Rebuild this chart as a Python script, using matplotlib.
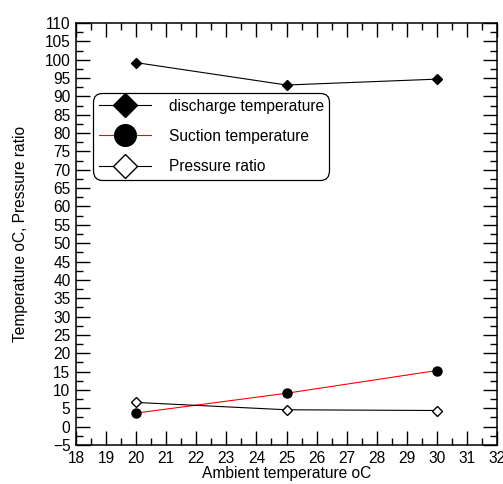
import matplotlib
matplotlib.use("Agg")
import matplotlib.pyplot as plt
from matplotlib.ticker import MultipleLocator

plt.rcParams['font.family'] = ['Liberation Sans', 'DejaVu Sans']

ambient = [20, 25, 30]
discharge = [99.2, 93.1, 94.7]
suction = [3.7, 9.1, 15.3]
pressure_ratio = [6.6, 4.6, 4.4]

FS = 11.2
W, H = 503, 484
fig = plt.figure(figsize=(W/100, H/100), dpi=100)
L, R, T, B = 76, 497, 23, 445
ax = fig.add_axes([L/W, 1-B/H, (R-L)/W, (B-T)/H])

ax.plot(ambient, discharge, color='black', lw=0.8, marker='D', ms=5, mfc='black', mec='black', label='discharge temperature')
ax.plot(ambient, suction, color='red', lw=0.8, marker='o', ms=6.5, mfc='black', mec='black', label='Suction temperature')
ax.plot(ambient, pressure_ratio, color='black', lw=0.8, marker='D', ms=5, mfc='white', mec='black', label='Pressure ratio')

ax.set_xlim(18, 32)
ax.set_ylim(-5, 110)
ax.xaxis.set_major_locator(MultipleLocator(1))
ax.xaxis.set_minor_locator(MultipleLocator(0.5))
ax.yaxis.set_major_locator(MultipleLocator(5))
ax.yaxis.set_minor_locator(MultipleLocator(2.5))
ax.tick_params(which='both', direction='in', top=True, right=True, labelsize=FS, width=1.0)
ax.tick_params(which='major', length=10)
ax.tick_params(which='minor', length=5)
ax.tick_params(axis='x', which='major', pad=4)
ax.tick_params(axis='y', which='major', pad=4)
for s in ax.spines.values():
    s.set_linewidth(1.1)

ax.set_xlabel('Ambient temperature oC', fontsize=FS, labelpad=0)
ax.set_ylabel('Temperature oC, Pressure ratio', fontsize=FS, labelpad=12)

leg = ax.legend(loc='upper left', bbox_to_anchor=((93-L)/(R-L), (B-93)/(B-T)), borderaxespad=0,
                fontsize=FS, markerscale=2.4, handlelength=3.4, labelspacing=0.98, borderpad=0.36,
                handletextpad=1.1, frameon=True, fancybox=True, edgecolor='black', framealpha=1)
leg.get_frame().set_linewidth(0.9)
leg.get_frame().set_boxstyle('round', pad=0, rounding_size=0.6)

fig.savefig('out.png', dpi=100)
